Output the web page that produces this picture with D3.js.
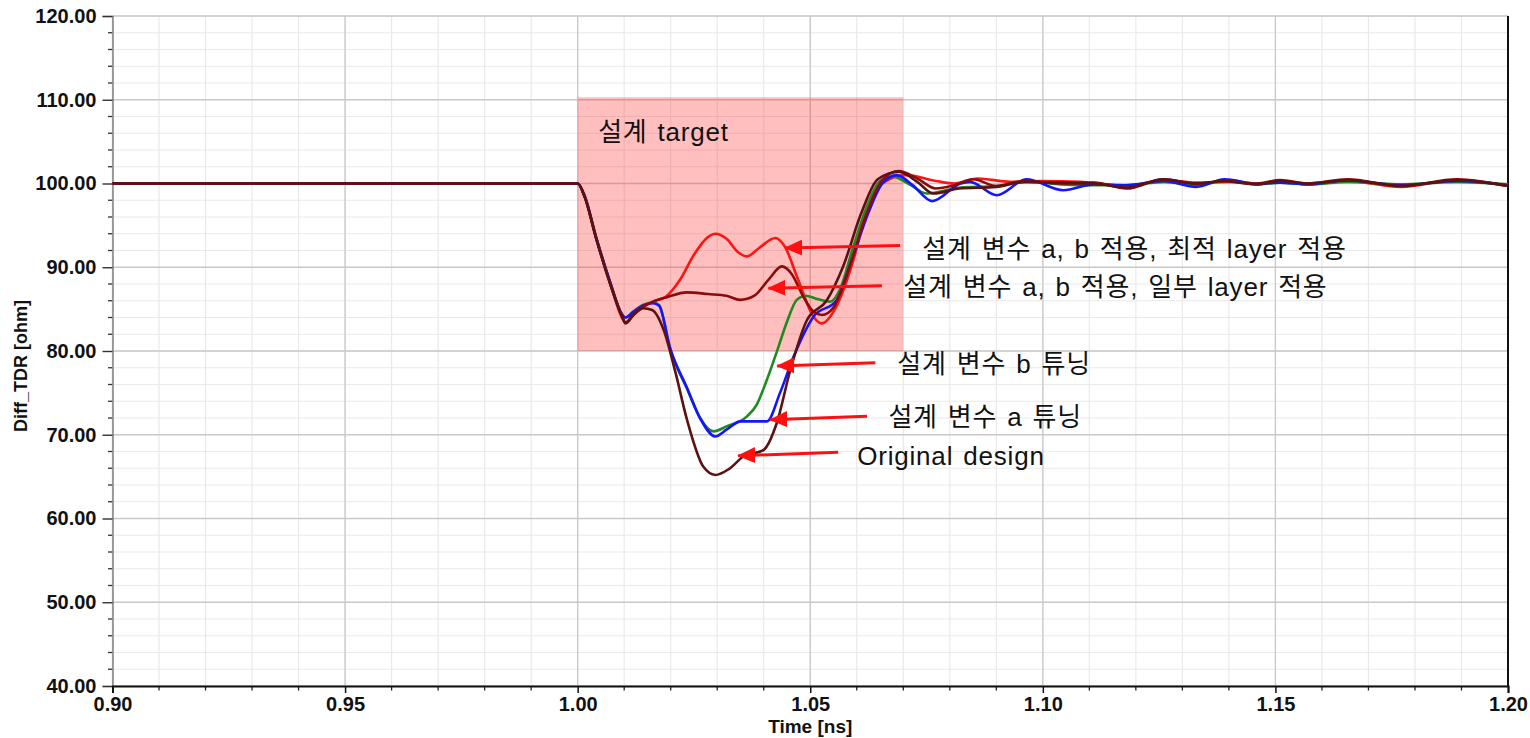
<!DOCTYPE html>
<html>
<head>
<meta charset="utf-8">
<script src="https://cdn.jsdelivr.net/npm/d3@7"></script>
<style>
  html, body { margin: 0; padding: 0; background: #fff; }
  svg { display: block; }
  .tick text { font-family: "Liberation Sans", Arial, sans-serif; font-weight: bold; font-size: 20px; fill: #111; }
</style>
</head>
<body>
<svg id="chart" width="1530" height="738"></svg>
<script>
// Differential TDR impedance traces, [time ns, impedance ohm]
const originalDesign = [
  [0.90, 100], [1.000, 100], [1.0015, 98.4], [1.004, 93.4], [1.007, 88.0], [1.0095, 84.2],
  [1.0103, 83.3], [1.012, 84.3], [1.0141, 85.1], [1.016, 84.9], [1.0185, 82.5], [1.021, 77.5],
  [1.0235, 71.8], [1.027, 66.2], [1.0296, 65.2], [1.0325, 65.9], [1.0356, 67.4], [1.040, 68.2],
  [1.0428, 71.4], [1.0457, 77.7], [1.0493, 83.7], [1.0535, 86.0], [1.057, 90.0], [1.061, 96.5],
  [1.0645, 100.5], [1.069, 101.4], [1.073, 100.2], [1.0765, 98.8], [1.082, 99.4], [1.090, 99.6],
  [1.096, 100.2], [1.104, 100.1], [1.111, 100.0], [1.118, 99.5], [1.1259, 100.5], [1.133, 100.0],
  [1.139, 100.3], [1.146, 99.9], [1.151, 100.3], [1.157, 100.0], [1.1655, 100.4], [1.177, 99.7],
  [1.189, 100.4], [1.200, 99.7]
];

const tuneA = [
  [0.90, 100], [1.000, 100], [1.0015, 98.5], [1.004, 93.5], [1.007, 88.2], [1.0095, 84.4],
  [1.0103, 84.0], [1.012, 84.7], [1.014, 85.4], [1.0162, 85.7], [1.0175, 85.4], [1.0199, 80.3],
  [1.0235, 75.6], [1.0263, 72.0], [1.0296, 69.8], [1.032, 70.6], [1.035, 71.6], [1.0407, 71.6],
  [1.0435, 75.0], [1.0464, 79.3], [1.0507, 84.1], [1.0557, 86.1], [1.059, 91.0], [1.0625, 96.5],
  [1.0655, 100.0], [1.0686, 101.0], [1.072, 99.8], [1.0762, 97.9], [1.0823, 100.0], [1.0843, 100.2],
  [1.0901, 98.6], [1.0965, 100.5], [1.1044, 99.2], [1.111, 99.9], [1.118, 99.8], [1.126, 100.3],
  [1.133, 99.6], [1.139, 100.5], [1.146, 100.0], [1.151, 100.1], [1.157, 99.9], [1.1655, 100.4],
  [1.177, 99.8], [1.189, 100.3], [1.200, 99.8]
];

const tuneB = [
  [0.90, 100], [1.000, 100], [1.0015, 98.5], [1.004, 93.5], [1.007, 88.2], [1.0095, 84.4],
  [1.0103, 84.0], [1.012, 84.7], [1.014, 85.5], [1.0162, 85.8], [1.0175, 85.5], [1.0199, 80.2],
  [1.0235, 75.5], [1.0263, 72.0], [1.0292, 70.4], [1.032, 71.0], [1.0364, 72.2], [1.0385, 73.6],
  [1.0405, 76.3], [1.0428, 79.9], [1.045, 83.5], [1.0471, 86.1], [1.049, 86.6], [1.0515, 86.2],
  [1.0543, 85.9], [1.0565, 87.5], [1.059, 92.0], [1.062, 97.0], [1.065, 100.3], [1.0678, 100.8],
  [1.071, 100.0], [1.0751, 98.8], [1.082, 99.5], [1.090, 99.7], [1.097, 100.2], [1.104, 99.9],
  [1.111, 99.8], [1.118, 99.8], [1.126, 100.2], [1.133, 99.8], [1.140, 100.4], [1.146, 99.9],
  [1.151, 100.1], [1.157, 99.9], [1.1655, 100.2], [1.177, 99.9], [1.189, 100.2], [1.200, 99.9]
];

const partialLayer = [
  [0.90, 100], [1.000, 100], [1.0015, 98.4], [1.004, 93.4], [1.007, 88.0], [1.0095, 84.2],
  [1.0103, 83.4], [1.012, 84.4], [1.014, 85.3], [1.0162, 85.9], [1.019, 86.4], [1.0235, 87.0],
  [1.028, 86.8], [1.032, 86.6], [1.0349, 86.1], [1.038, 86.6], [1.041, 88.5], [1.0439, 90.1],
  [1.046, 89.2], [1.0485, 86.5], [1.0507, 84.7], [1.0525, 84.3], [1.055, 85.2], [1.058, 89.3],
  [1.062, 96.2], [1.0655, 100.4], [1.069, 101.5], [1.073, 100.6], [1.077, 99.4], [1.081, 99.8],
  [1.085, 100.5], [1.090, 99.7], [1.096, 100.3], [1.104, 100.0], [1.111, 100.1], [1.118, 99.4],
  [1.1259, 100.5], [1.133, 100.0], [1.139, 100.3], [1.146, 100.0], [1.151, 100.4], [1.157, 100.0],
  [1.1655, 100.5], [1.177, 99.7], [1.189, 100.5], [1.200, 99.7]
];

const optimalLayer = [
  [0.90, 100], [1.000, 100], [1.0015, 98.5], [1.004, 93.5], [1.007, 88.1], [1.0095, 84.0],
  [1.0103, 83.4], [1.012, 84.3], [1.014, 85.2], [1.0162, 85.9], [1.019, 86.5], [1.022, 88.5],
  [1.025, 91.5], [1.028, 93.6], [1.0296, 94.0], [1.032, 93.4], [1.0345, 91.8], [1.0364, 91.3],
  [1.039, 92.3], [1.0425, 93.5], [1.0445, 92.5], [1.0474, 88.5], [1.0507, 84.1], [1.0525, 83.3],
  [1.0556, 85.3], [1.0593, 90.9], [1.062, 96.5], [1.066, 100.2], [1.0705, 101.0], [1.077, 100.3],
  [1.081, 100.0], [1.086, 100.6], [1.093, 100.2], [1.100, 100.3], [1.108, 100.2], [1.118, 99.7],
  [1.126, 100.4], [1.133, 100.1], [1.140, 100.2], [1.146, 99.9], [1.151, 100.3], [1.157, 99.9],
  [1.1655, 100.3], [1.177, 99.6], [1.189, 100.4], [1.200, 99.7]
];

// draw order (first = bottom)
const seriesNames = ["optimalLayer", "tuneB", "tuneA", "partialLayer", "originalDesign"];
const seriesData = [optimalLayer, tuneB, tuneA, partialLayer, originalDesign];
const seriesColors = ["#ff1414", "#1f8a1f", "#1414ff", "#8e0a0a", "#5a1212"];

// target window: time span and impedance span
const targetTime = [1.00, 1.07];
const targetOhm = [80, 110.3];
const targetLabel = "설계 target";
const targetLabelPos = [1.0044, 105.1];

// callouts: label text, label anchor [t, ohm], arrow tail [t, ohm], arrow tip [t, ohm]
const calloutText = [
  "설계 변수 a, b 적용, 최적 layer 적용",
  "설계 변수 a, b 적용, 일부 layer 적용",
  "설계 변수 b 튜닝",
  "설계 변수 a 튜닝",
  "Original design"
];
const calloutLabelPos = [[1.0741, 91.1], [1.0700, 86.57], [1.0687, 77.37], [1.0668, 71.04], [1.0601, 66.39]];
const calloutTail = [[1.0693, 92.6], [1.0654, 87.8], [1.0640, 78.6], [1.0622, 72.2], [1.0560, 67.9]];
const calloutTip = [[1.0446, 92.3], [1.0410, 87.5], [1.0429, 78.2], [1.0414, 71.8], [1.0345, 67.5]];

// axes
const xDomain = [0.90, 1.20];
const yDomain = [40, 120];
const xMajorTicks = [0.90, 0.95, 1.00, 1.05, 1.10, 1.15, 1.20];
const yMajorTicks = [40, 50, 60, 70, 80, 90, 100, 110, 120];
const xLabel = "Time [ns]";
const yLabel = "Diff_TDR [ohm]";

const svg = d3.select("#chart");
const W = 1530, H = 738;
const plot = { left: 112.5, right: 1508, top: 16, bottom: 686 };

svg.append("rect").attr("width", W).attr("height", H).attr("fill", "#fff");

const x = d3.scaleLinear().domain(xDomain).range([plot.left, plot.right]);
const y = d3.scaleLinear().domain(yDomain).range([plot.bottom, plot.top]);

// minor and major grid
const xMinor = d3.range(0, 31).map(i => +(0.90 + i * 0.01).toFixed(2));
const yMinor = d3.range(0, 41).map(i => 40 + i * 2);

const grid = svg.append("g");
grid.selectAll(".gxm").data(xMinor).join("line")
  .attr("x1", d => x(d)).attr("x2", d => x(d))
  .attr("y1", plot.top).attr("y2", plot.bottom)
  .attr("stroke", "#e9e9e9").attr("stroke-width", 1.2);
grid.selectAll(".gym").data(yMinor).join("line")
  .attr("x1", plot.left).attr("x2", plot.right)
  .attr("y1", d => y(d)).attr("y2", d => y(d))
  .attr("stroke", "#e9e9e9").attr("stroke-width", 1.2);
grid.selectAll(".gxM").data(xMajorTicks).join("line")
  .attr("x1", d => x(d)).attr("x2", d => x(d))
  .attr("y1", plot.top).attr("y2", plot.bottom)
  .attr("stroke", "#c9c9c9").attr("stroke-width", 1.3);
grid.selectAll(".gyM").data(yMajorTicks).join("line")
  .attr("x1", plot.left).attr("x2", plot.right)
  .attr("y1", d => y(d)).attr("y2", d => y(d))
  .attr("stroke", "#c9c9c9").attr("stroke-width", 1.3);

// target window
svg.append("rect")
  .attr("x", x(targetTime[0])).attr("y", y(targetOhm[1]))
  .attr("width", x(targetTime[1]) - x(targetTime[0]))
  .attr("height", y(targetOhm[0]) - y(targetOhm[1]))
  .attr("fill", "#ff2a2a").attr("fill-opacity", 0.3);

// minor axis ticks
const axisG = svg.append("g");
axisG.selectAll(".ytk").data(yMinor.filter(v => v % 10 !== 0)).join("line")
  .attr("x1", d => plot.left - (d % 5 === 0 ? 7 : 4.5)).attr("x2", plot.left)
  .attr("y1", d => y(d)).attr("y2", d => y(d))
  .attr("stroke", "#333").attr("stroke-width", 1.3);
axisG.selectAll(".xtk").data(xMinor.filter(v => Math.round(v * 100) % 5 !== 0)).join("line")
  .attr("x1", d => x(d)).attr("x2", d => x(d))
  .attr("y1", plot.bottom).attr("y2", plot.bottom + 4.5)
  .attr("stroke", "#222").attr("stroke-width", 1.3);

// major axes
const yAxis = svg.append("g")
  .attr("transform", `translate(${plot.left},0)`)
  .call(d3.axisLeft(y).tickValues(yMajorTicks).tickFormat(d3.format(".2f")).tickSize(10).tickPadding(6));
yAxis.select(".domain").attr("stroke", "#8a8a8a").attr("stroke-width", 1.6);
yAxis.selectAll(".tick line").attr("stroke", "#333").attr("stroke-width", 1.4);

const xAxis = svg.append("g")
  .attr("transform", `translate(0,${plot.bottom})`)
  .call(d3.axisBottom(x).tickValues(xMajorTicks).tickFormat(d3.format(".2f")).tickSize(7).tickPadding(4));
xAxis.select(".domain").attr("stroke", "#111").attr("stroke-width", 2);
xAxis.selectAll(".tick line").attr("stroke", "#111").attr("stroke-width", 1.5);

// right frame edge
svg.append("line")
  .attr("x1", plot.right).attr("x2", plot.right)
  .attr("y1", plot.top).attr("y2", plot.bottom)
  .attr("stroke", "#111").attr("stroke-width", 2);

// axis titles
svg.append("text")
  .attr("x", (plot.left + plot.right) / 2).attr("y", 733)
  .attr("text-anchor", "middle")
  .style("font-family", "'Liberation Sans', Arial, sans-serif")
  .style("font-weight", "bold").style("font-size", "19px").attr("fill", "#111")
  .text(xLabel);
svg.append("text")
  .attr("transform", "translate(27,366) rotate(-90)")
  .attr("text-anchor", "middle")
  .style("font-family", "'Liberation Sans', Arial, sans-serif")
  .style("font-weight", "bold").style("font-size", "18px").attr("fill", "#111")
  .text(yLabel);

// traces
const line = d3.line()
  .x(d => x(d[0])).y(d => y(d[1]))
  .curve(d3.curveMonotoneX);

svg.append("g").selectAll("path").data(seriesData).join("path")
  .attr("class", (d, i) => seriesNames[i])
  .attr("d", line)
  .attr("fill", "none")
  .attr("stroke", (d, i) => seriesColors[i])
  .attr("stroke-width", 2.6)
  .attr("stroke-linejoin", "round");

// annotation text
const annFont = "'Liberation Sans', Arial, 'Noto Sans CJK KR', sans-serif";
svg.append("text")
  .attr("x", x(targetLabelPos[0])).attr("y", y(targetLabelPos[1]))
  .style("font-family", annFont).style("font-size", "26px")
  .style("letter-spacing", "0.8px").style("word-spacing", "2px").attr("fill", "#111")
  .text(targetLabel);

svg.append("g").selectAll("text").data(calloutText).join("text")
  .attr("x", (d, i) => x(calloutLabelPos[i][0]))
  .attr("y", (d, i) => y(calloutLabelPos[i][1]))
  .style("font-family", annFont).style("font-size", "26px")
  .style("letter-spacing", "0.8px").style("word-spacing", "2px").attr("fill", "#111")
  .text(d => d);

// arrows
const defs = svg.append("defs");
defs.append("marker")
  .attr("id", "head")
  .attr("markerUnits", "userSpaceOnUse")
  .attr("viewBox", "0 0 18 16")
  .attr("refX", 17).attr("refY", 8)
  .attr("markerWidth", 18).attr("markerHeight", 16)
  .attr("orient", "auto")
  .append("path").attr("d", "M0,0 L18,8 L0,16 Z").attr("fill", "#ff1010");

svg.append("g").selectAll("line").data(calloutTip).join("line")
  .attr("x1", (d, i) => x(calloutTail[i][0])).attr("y1", (d, i) => y(calloutTail[i][1]))
  .attr("x2", d => x(d[0])).attr("y2", d => y(d[1]))
  .attr("stroke", "#ff1010").attr("stroke-width", 3)
  .attr("marker-end", "url(#head)");
</script>
</body>
</html>
